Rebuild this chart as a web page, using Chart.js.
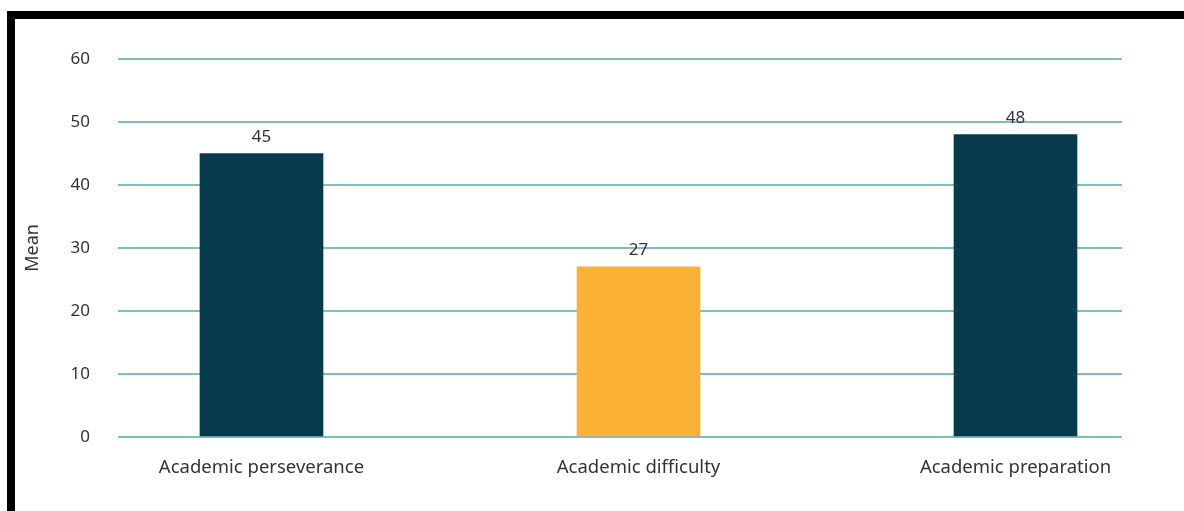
<!DOCTYPE html>
<html>
<head>
<meta charset="utf-8">
<script src="https://cdn.jsdelivr.net/npm/chart.js@4"></script>
<style>
  html, body { margin: 0; padding: 0; background: #fff; }
  #wrap { position: relative; width: 1184px; height: 511px; overflow: hidden; }
  #frame {
    position: absolute; left: 7px; top: 11px; right: -10px; bottom: -10px;
    border-top: 8px solid #000; border-left: 8px solid #000;
  }
  canvas { position: absolute; left: 0; top: 0; }
</style>
</head>
<body>
<div id="wrap">
  <div id="frame"></div>
  <canvas id="meanChart" width="1184" height="511"></canvas>
</div>
<script>
const categories = ['Academic perseverance', 'Academic difficulty', 'Academic preparation'];
const means = [45, 27, 48];
const barColors = ['#083a4d', '#fbb135', '#083a4d'];
const yTicks = [0, 10, 20, 30, 40, 50, 60];

const FONT = '"Noto Sans", "Open Sans", sans-serif';

// value printed above every bar
const barValueLabels = {
    id: 'barValueLabels',
    afterDatasetsDraw(chart) {
        const ctx = chart.ctx;
        const meta = chart.getDatasetMeta(0);
        ctx.save();
        ctx.font = '17px ' + FONT;
        ctx.fillStyle = '#333';
        ctx.textAlign = 'center';
        ctx.textBaseline = 'alphabetic';
        meta.data.forEach((bar, i) => {
            ctx.fillText(String(means[i]), bar.x, bar.y - 12);
        });
        ctx.restore();
    }
};

const ctx = document.getElementById('meanChart').getContext('2d');
const meanChart = new Chart(ctx, {
    type: 'bar',
    data: {
        datasets: [{
            data: means.map((v, i) => ({ x: i, y: v })),
            backgroundColor: barColors,
            barThickness: 123
        }]
    },
    options: {
        responsive: false,
        animation: false,
        layout: { padding: { left: 20, right: 62, top: 59, bottom: 0 } },
        plugins: {
            legend: { display: false },
            tooltip: { enabled: false }
        },
        scales: {
            x: {
                type: 'linear',
                offset: false,
                min: -0.3806,
                max: 2.2825,
                grid: { display: false },
                border: { display: false },
                afterBuildTicks: (scale) => {
                    scale.ticks = categories.map((c, i) => ({ value: i }));
                },
                afterFit: (scale) => { scale.height = 74; },
                ticks: {
                    padding: 12,
                    autoSkip: false,
                    maxRotation: 0,
                    color: '#333',
                    font: { family: FONT, size: 18.5 },
                    callback: (v) => categories[v]
                }
            },
            y: {
                min: 0,
                max: 60,
                afterBuildTicks: (scale) => {
                    scale.ticks = yTicks.map(v => ({ value: v }));
                },
                afterFit: (scale) => { scale.width = 98; },
                grid: { color: '#7bbfc4', lineWidth: 2, drawTicks: false },
                border: { display: false },
                ticks: {
                    padding: 28,
                    color: '#333',
                    font: { family: FONT, size: 17 }
                },
                title: {
                    display: true,
                    text: 'Mean',
                    color: '#333',
                    padding: { top: 2, bottom: 0 },
                    font: { family: FONT, size: 18 }
                }
            }
        }
    },
    plugins: [barValueLabels]
});
</script>
</body>
</html>
